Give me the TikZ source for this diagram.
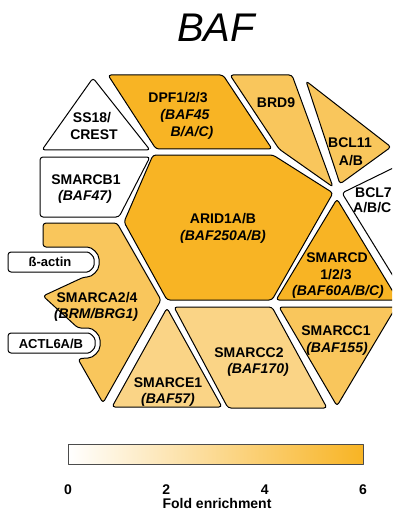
\documentclass[tikz,border=0pt]{standalone}
\usepackage{fontspec}
\setmainfont{Liberation Sans}
\definecolor{fold6}{RGB}{248,180,36}
\definecolor{fold5}{RGB}{249,198,92}
\definecolor{fold4}{RGB}{250,212,134}
\tikzset{piece/.style={draw=black,line width=1pt,rounded corners=3pt},
	lab/.style={anchor=base,inner sep=0pt,font=\fontsize{14}{17}\selectfont\bfseries},
	ilab/.style={lab,font=\fontsize{14}{17}\selectfont\bfseries\itshape},
	plab/.style={lab,font=\fontsize{13}{16}\selectfont\bfseries}}
\begin{document}
\begin{tikzpicture}[x=1pt,y=-1pt,line join=round]
\useasboundingbox (0,0) rectangle (392,513);
\clip (0,0) rectangle (392,513);
\node[anchor=base,inner sep=0pt,font=\fontsize{40}{48}\selectfont\itshape] (title) at (216,42) {BAF};
\draw[piece,fill=white] (93,78)--(150,150)--(42,150)--cycle;
\draw[piece,fill=fold6] (108,75)--(223,75)--(272,149)--(156,149)--cycle;
\draw[piece,fill=fold5] (230,75)--(292,75)--(333,187)--(279,149)--cycle;
\draw[piece,fill=fold5] (306,81)--(391,147)--(340,184)--cycle;
\draw[piece,fill=white] (342,193)--(430,150)--(430,336)--cycle;
\draw[piece,fill=white] (40,157)--(150,157)--(119,217)--(40,217)--cycle;
\draw[piece,fill=fold6] (153,155)--(273,155)--(333,193)--(272,300)--(167,300)--(124,222)--cycle;
\draw[piece,fill=fold6] (337,199)--(398,300)--(276,300)--cycle;
\draw[piece,fill=fold5] (43,223)--(117,223)--(161,300)--(103,403)--(78,359)--(85,358)
	.. controls (93.3,358) and (100,351.3) .. (100,343)
	.. controls (100,334.7) and (93.3,328) .. (85,328)--(78,328)--(43,296)--(84,277)
	.. controls (92.3,277) and (99,270.3) .. (99,262)
	.. controls (99,253.7) and (92.3,247) .. (84,247)--(43,247)--cycle;
\draw[piece,fill=fold4] (167,308)--(222,407)--(112,407)--cycle;
\draw[piece,fill=fold4] (174,307)--(272,307)--(327,408)--(228,408)--cycle;
\draw[piece,fill=fold5] (279,307)--(396,307)--(337,406)--cycle;
\draw[piece,fill=white] (8,252)--(84,252) .. controls (89.5,252) and (94,256.5) .. (94,262)
	.. controls (94,267.5) and (89.5,272) .. (84,272)--(8,272)--cycle;
\draw[piece,fill=white] (8,333)--(85,333) .. controls (90.5,333) and (95,337.5) .. (95,343)
	.. controls (95,348.5) and (90.5,353) .. (85,353)--(8,353)--cycle;
\node[lab] (ss) at (92,123) {SS18/};
\node[lab] (crest) at (94,140) {CREST};
\node[lab] (dpf) at (178,103) {DPF1/2/3};
\node[ilab] (dpfa) at (185,120) {(BAF45};
\node[ilab] (dpfb) at (192,137) {B/A/C)};
\node[lab] (brd) at (276,108) {BRD9};
\node[lab] (bcla) at (350,147) {BCL11};
\node[lab] (bclb) at (351,165) {A/B};
\node[lab,anchor=base west] (bclc) at (355,197) {BCL7};
\node[lab,anchor=base west] (bcld) at (353,212) {A/B/C};
\node[lab] (smb) at (86,184) {SMARCB1};
\node[ilab] (smbi) at (85,200) {(BAF47)};
\node[lab] (arid) at (223,223) {ARID1A/B};
\node[ilab] (aridi) at (223,240) {(BAF250A/B)};
\node[lab] (smd) at (337,262) {SMARCD};
\node[lab] (smdn) at (336,279) {1/2/3};
\node[ilab] (smdi) at (338,295) {(BAF60A/B/C)};
\node[lab] (sma) at (97,302) {SMARCA2/4};
\node[ilab] (smai) at (96,318) {(BRM/BRG1)};
\node[plab] (actin) at (50,266) {ß-actin};
\node[plab] (actl) at (51,348) {ACTL6A/B};
\node[lab] (smc2) at (249,357) {SMARCC2};
\node[ilab] (smc2i) at (258,373) {(BAF170)};
\node[lab] (smc1) at (336,335) {SMARCC1};
\node[ilab] (smc1i) at (337,352) {(BAF155)};
\node[lab] (sme) at (168,387) {SMARCE1};
\node[ilab] (smei) at (168,403) {(BAF57)};
\shade[left color=white,right color=fold6] (68,444) rectangle (363,464);
\draw[line width=.8pt,black!70] (68,444) rectangle (363,464);
\foreach \v in {0,2,4,6}
\node[lab] (t\v) at ({68+\v*295/6},494) {\v};
\node[lab] (fold) at (217,508) {Fold enrichment};
\end{tikzpicture}
\end{document}
